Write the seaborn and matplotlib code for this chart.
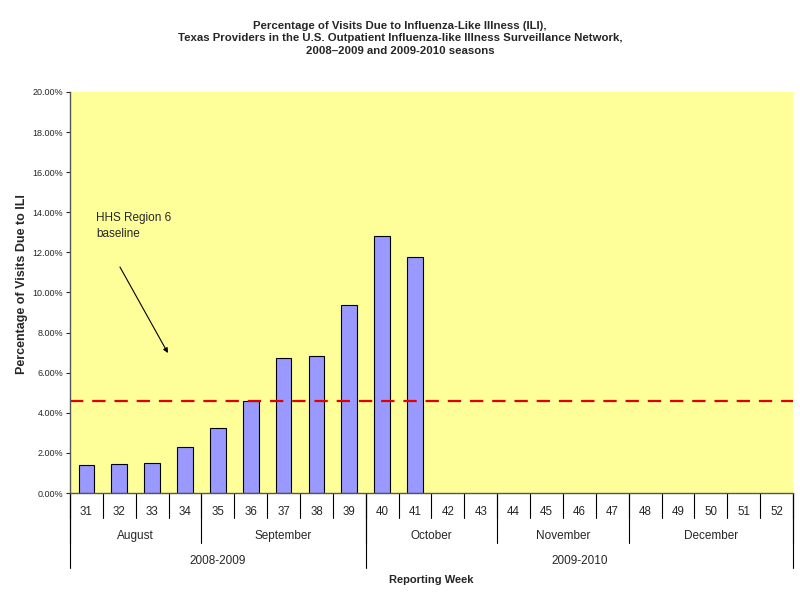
#!/usr/bin/env python3
"""Texas ILI percentage by reporting week, Excel-style chart."""

import matplotlib.pyplot as plt
import matplotlib.transforms as mtransforms
import pandas as pd
import seaborn as sns

weeks = [str(w) for w in range(31, 53)]
ili_weeks = ["31", "32", "33", "34", "35", "36", "37", "38", "39", "40", "41"]
ili_pct = [1.40, 1.45, 1.50, 2.28, 3.23, 4.59, 6.71, 6.84, 9.37, 12.83, 11.77]
baseline_pct = 4.6

months = ["August", "September", "October", "November", "December"]
month_weeks = [4, 5, 4, 4, 5]
seasons = ["2008-2009", "2009-2010"]
season_weeks = [9, 13]

title = ("Percentage of Visits Due to Influenza-Like Illness (ILI),\n"
         "Texas Providers in the U.S. Outpatient Influenza-like Illness Surveillance Network,\n"
         "2008\u20132009 and 2009-2010 seasons")

sns.set_style("white")
plt.rcParams["font.family"] = ["Liberation Sans", "DejaVu Sans"]

fig = plt.figure(figsize=(8, 6.01), dpi=100)
ax = fig.add_axes([0.0875, 0.1797, 0.9037, 0.6673])
ax.set_facecolor("#FFFF99")

df = pd.DataFrame({"week": ili_weeks, "pct": ili_pct})
sns.barplot(data=df, x="week", y="pct", order=weeks, color="#9999FF",
            saturation=1, width=0.48, edgecolor="black", linewidth=0.8, ax=ax)
ax.axhline(baseline_pct, color="#E00000", linestyle=(0, (6, 4)), linewidth=1.6)

ax.set_xlim(-0.5, len(weeks) - 0.5)
ax.set_ylim(0, 20)
ax.set_yticks(range(0, 21, 2))
ax.set_yticklabels([f"{v:.2f}%" for v in range(0, 21, 2)], fontsize=6.5)
ax.tick_params(axis="y", length=3, width=0.8, pad=2, left=True)
ax.set_xticks(range(len(weeks)))
ax.set_xticklabels(weeks, fontsize=8.3)
ax.tick_params(axis="x", length=0, pad=9)
for side in ["top", "right"]:
    ax.spines[side].set_visible(False)
for side in ["left", "bottom"]:
    ax.spines[side].set_color("#555555")
    ax.spines[side].set_linewidth(1)

ax.set_xlabel("")
ax.set_ylabel("Percentage of Visits Due to ILI", fontsize=9, fontweight="bold")
ax.yaxis.set_label_coords(-0.058, 0.52)

# multi-level category axis
trans = mtransforms.blended_transform_factory(ax.transData, ax.transAxes)
line_kw = dict(color="black", linewidth=0.8, transform=trans, clip_on=False)
for i in range(len(weeks) + 1):
    ax.plot([i - 0.5, i - 0.5], [0, -0.062], **line_kw)
start = 0
for name, n in zip(months, month_weeks):
    ax.plot([start - 0.5, start - 0.5], [0, -0.125], **line_kw)
    ax.text(start + n / 2 - 0.5, -0.107, name, transform=trans, ha="center",
            va="center", fontsize=8.5)
    start += n
ax.plot([start - 0.5, start - 0.5], [0, -0.125], **line_kw)
start = 0
for name, n in zip(seasons, season_weeks):
    ax.plot([start - 0.5, start - 0.5], [0, -0.187], **line_kw)
    ax.text(start + n / 2 - 0.5, -0.169, name, transform=trans, ha="center",
            va="center", fontsize=8.5)
    start += n
ax.plot([start - 0.5, start - 0.5], [0, -0.187], **line_kw)
ax.text(0.5, -0.218, "Reporting Week", transform=ax.transAxes, ha="center",
        va="center", fontsize=8, fontweight="bold")

ax.text(0.29, 13.3, "HHS Region 6\nbaseline", fontsize=8.5, ha="left", va="center",
        linespacing=1.45)
ax.annotate("", xy=(2.48, 6.98), xytext=(1.02, 11.27),
            arrowprops=dict(arrowstyle="-|>", color="black", lw=0.8,
                            mutation_scale=7, shrinkA=0, shrinkB=0))

fig.text(0.5, 0.936, title, ha="center", va="center", fontsize=8.2,
         fontweight="bold", linespacing=1.35)

fig.savefig("out.png", dpi=100)
